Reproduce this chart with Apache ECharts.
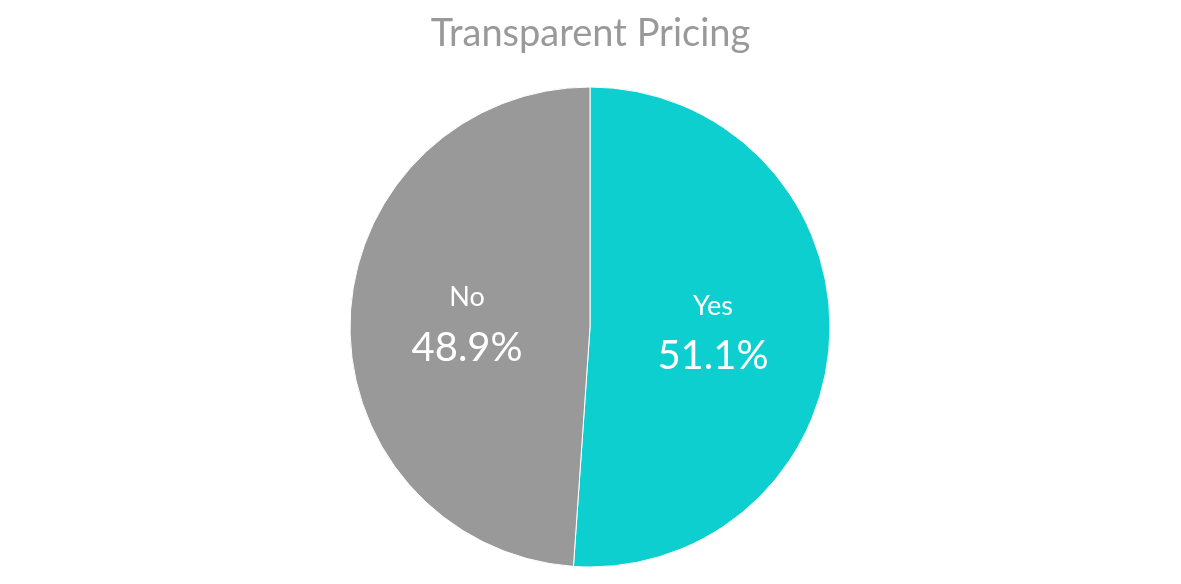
<!DOCTYPE html>
<html>
<head>
<meta charset="utf-8">
<title>Transparent Pricing</title>
<script src="https://cdn.jsdelivr.net/npm/echarts@6/dist/echarts.min.js"></script>
<style>html,body{margin:0;padding:0;background:#fff}</style>
</head>
<body>
<div id="main" style="width:1181px;height:584px;"></div>
<script>
var categories = ['Yes', 'No'];
var values = [51.1, 48.9];
var colors = ['#0ecfcf', '#999999'];

var chart = echarts.init(document.getElementById('main'));
chart.setOption({
  title: {
    text: 'Transparent Pricing',
    left: 'center',
    top: 10,
    textStyle: { fontFamily: 'Lato', fontSize: 38, fontWeight: 'normal', color: '#999999' }
  },
  series: [{
    type: 'pie',
    center: [590, 327],
    radius: 240,
    startAngle: 90,
    clockwise: true,
    animation: false,
    data: categories.map(function (c, i) {
      return { name: c, value: values[i], itemStyle: { color: colors[i] } };
    }),
    label: {
      position: 'inside',
      formatter: function (p) { return '{n|' + p.name + '}\n{v|' + p.value.toFixed(1) + '%}'; },
      rich: {
        n: { fontFamily: 'Lato', fontSize: 27, color: '#fff', lineHeight: 50 },
        v: { fontFamily: 'Lato', fontSize: 40, color: '#fff', lineHeight: 50 }
      }
    },
    labelLine: { show: false },
    itemStyle: { borderColor: '#fff', borderWidth: 1 }
  }]
});
</script>
</body>
</html>
